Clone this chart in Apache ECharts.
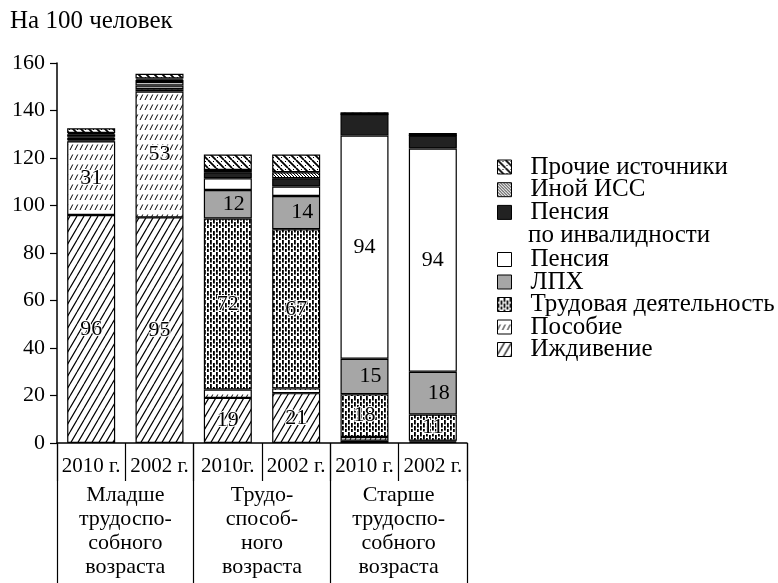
<!DOCTYPE html>
<html><head><meta charset="utf-8">
<script src="https://cdn.jsdelivr.net/npm/echarts@6/dist/echarts.min.js"></script>
<style>html,body{margin:0;padding:0;background:#fff}#c{width:778px;height:583px}</style>
</head><body><div id="c"></div>
<script>
const categories = ['2010 г.', '2002 г.', '2010г.', '2002 г.', '2010 г.', '2002 г.'];
const groups = ['Младше\nтрудоспо-\nсобного\nвозраста', 'Трудо-\nспособ-\nного\nвозраста', 'Старше\nтрудоспо-\nсобного\nвозраста'];
const yMin = 0, yMax = 160, yStep = 20;
const names = ['Иждивение', 'Пособие', 'Трудовая деятельность', 'ЛПХ', 'Пенсия', 'Пенсия по инвалидности', 'Иной ИСС', 'Прочие источники'];
const vDependent = [96, 95, 19, 21, 1, 0.5];
const vBenefit   = [31, 53, 3.5, 2, 1.5, 0.5];
const vWork      = [0.5, 1, 72, 67, 18, 11];
const vLPH       = [1, 1.5, 12, 14, 15, 18];
const vPension   = [0.5, 1.5, 5, 4, 94, 94];
const vDisab     = [1, 1, 2.5, 3.5, 9, 5.5];
const vOther     = [0.5, 0.5, 1, 2.5, 0, 0];
const vMisc      = [2, 2, 6.5, 7.5, 0.8, 1];
const values = [vDependent, vBenefit, vWork, vLPH, vPension, vDisab, vOther, vMisc];

const FONT = 'Liberation Serif';

function mk(w, h, draw) {
  const c = document.createElement('canvas'); c.width = w; c.height = h;
  const g = c.getContext('2d');
  g.fillStyle = '#fff'; g.fillRect(0, 0, w, h);
  g.strokeStyle = '#000'; g.fillStyle = '#000';
  draw(g, w, h);
  return { image: c, repeat: 'repeat' };
}
function slashLines(g, w, h, lw, back) {
  g.lineWidth = lw; g.beginPath();
  for (let o = -w; o <= w; o += w) {
    if (back) { g.moveTo(o, 0); g.lineTo(o + w, h); }
    else { g.moveTo(o, h); g.lineTo(o + w, 0); }
  }
  g.stroke();
}
const pDependent = mk(7, 12, (g, w, h) => slashLines(g, w, h, 1.2, false));
const pBenefit = mk(5, 10, (g, w, h) => {
  g.lineWidth = 1; g.beginPath();
  for (let o = -w; o <= w; o += w) {
    g.moveTo(o, h); g.lineTo(o + w * 0.55, h * 0.45);
  }
  g.stroke();
});
const pWork = mk(12, 12, (g) => {
  for (let k = 0; k < 4; k++) {
    const y0 = (12 - k * 3) % 12;
    g.fillRect(k * 3, y0, 1.8, 4.5);
    g.fillRect(k * 3, (y0 + 6) % 12, 1.8, 4.5);
  }
});
const pOther = mk(3, 3, (g, w, h) => slashLines(g, w, h, 1, true));
const pMisc = mk(8, 8, (g, w, h) => {
  slashLines(g, w, h, 1.8, true);
  g.fillRect(5, 1, 1, 1); g.fillRect(1, 5, 1, 1);
});
const fills = [pDependent, pBenefit, pWork, '#a6a6a6', '#ffffff', '#222222', pOther, pMisc];
const labelOffsets = [[0, 0], [0, 0], [0, 0], [6, 0], [0, 0], [0, 0], [0, 0], [0, 0]];

const series = names.map((n, i) => ({
  name: n, type: 'bar', stack: 'all', barWidth: 48,
  itemStyle: { color: fills[i], borderColor: '#000', borderWidth: 1.2 },
  data: values[i].map(v => ({
    value: v,
    label: {
      show: v >= 10, position: 'inside', offset: labelOffsets[i],
      fontFamily: FONT, fontSize: 22, color: '#000',
      textBorderColor: (i === 3 || i === 4) ? 'transparent' : '#fff', textBorderWidth: 2
    }
  }))
}));

const legendText = { fontFamily: FONT, fontSize: 25, color: '#000', padding: [0, 0, 0, 14] };
const chart = echarts.init(document.getElementById('c'), null, { renderer: 'canvas' });
chart.setOption({
  animation: false,
  backgroundColor: '#fff',
  title: { text: 'На 100 человек', left: 5, top: 4, textStyle: { fontFamily: FONT, fontSize: 25, fontWeight: 'normal', color: '#000' } },
  grid: { left: 57, right: 311, top: 63, bottom: 140 },
  legend: [
    { orient: 'vertical', left: 497, top: 154.5, padding: 0, itemGap: -2.3, itemWidth: 14, itemHeight: 14, selectedMode: false,
      icon: 'rect', itemStyle: { borderColor: '#000', borderWidth: 1 }, textStyle: legendText,
      data: ['Прочие источники', 'Иной ИСС', 'Пенсия по инвалидности'],
      formatter: n => n === 'Пенсия по инвалидности' ? 'Пенсия' : n },
    { orient: 'vertical', left: 497, top: 247, padding: 0, itemGap: -2.5, itemWidth: 14, itemHeight: 14, selectedMode: false,
      icon: 'rect', itemStyle: { borderColor: '#000', borderWidth: 1 }, textStyle: legendText,
      data: ['Пенсия', 'ЛПХ', 'Трудовая деятельность', 'Пособие', 'Иждивение'] }
  ],
  graphic: [{ type: 'text', left: 528, top: 223, style: { text: 'по инвалидности', font: '25px "Liberation Serif"', fill: '#000' } }],
  xAxis: [
    { type: 'category', data: categories, position: 'bottom',
      axisLine: { show: true, lineStyle: { color: '#000', width: 1.5 } },
      axisTick: { show: true, length: 38, lineStyle: { color: '#000', width: 1.2 } },
      axisLabel: { fontFamily: FONT, fontSize: 21, color: '#000', margin: 13, interval: 0 } },
    { type: 'category', data: groups, position: 'bottom',
      axisLine: { show: false },
      axisTick: { show: true, length: 145, lineStyle: { color: '#000', width: 1.2 } },
      axisLabel: { fontFamily: FONT, fontSize: 22, color: '#000', margin: 40, lineHeight: 24, interval: 0 } }
  ],
  yAxis: {
    type: 'value', min: yMin, max: yMax, interval: yStep,
    axisLine: { show: true, lineStyle: { color: '#000', width: 1.5 } },
    axisTick: { show: true, length: 7, lineStyle: { color: '#000', width: 1.2 } },
    axisLabel: { fontFamily: FONT, fontSize: 22, color: '#000', margin: 12 },
    splitLine: { show: false }
  },
  series: series
});
</script></body></html>
